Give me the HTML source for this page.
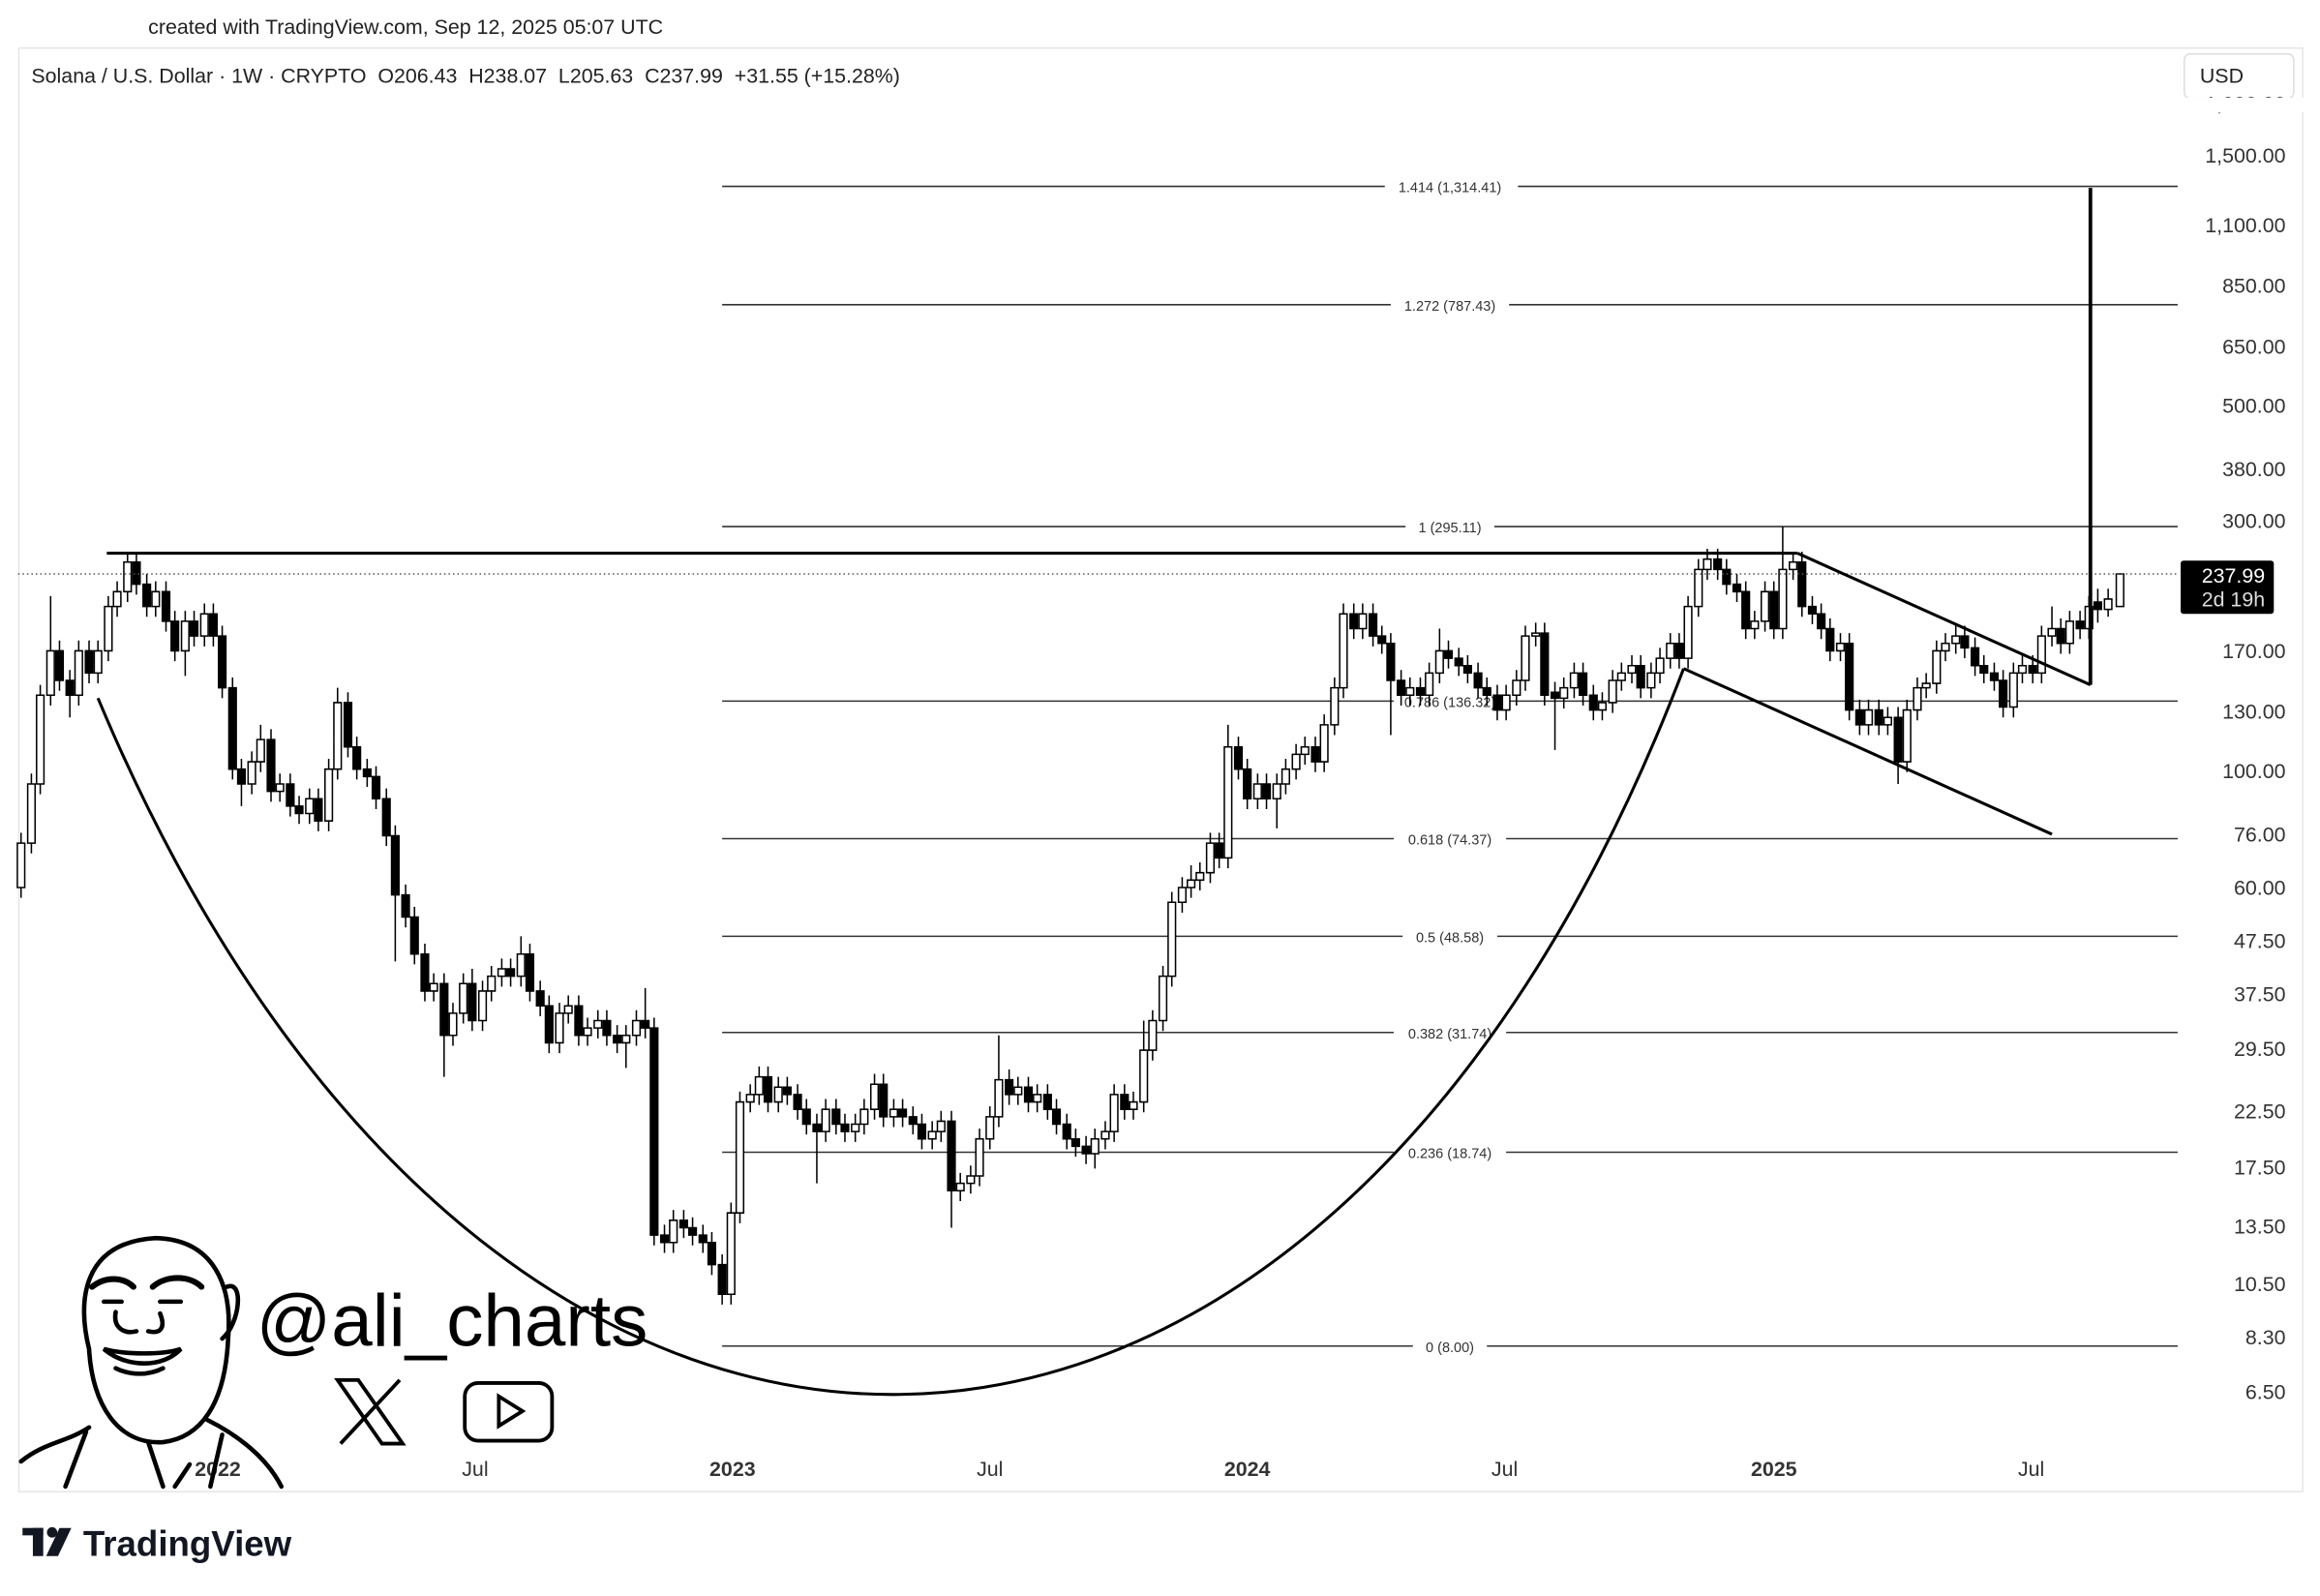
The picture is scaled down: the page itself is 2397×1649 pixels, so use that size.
<!DOCTYPE html>
<html><head><meta charset="utf-8"><style>
html,body{margin:0;padding:0;background:#fff;}
svg{display:block;font-family:"Liberation Sans",sans-serif;}
</style></head><body>
<svg width="2397" height="1649" viewBox="0 0 1568 1079" xmlns="http://www.w3.org/2000/svg">
<rect width="1568" height="1079" fill="#fff"/>
<text x="100" y="23" font-size="14" fill="#222">created with TradingView.com, Sep 12, 2025 05:07 UTC</text>
<rect x="12.5" y="32.5" width="1544" height="976" fill="none" stroke="#e6e6e6"/>
<text x="21" y="56" font-size="14" fill="#222" xml:space="preserve">Solana / U.S. Dollar · 1W · CRYPTO  O206.43  H238.07  L205.63  C237.99  +31.55 (+15.28%)</text>
<rect x="1476.5" y="36.5" width="74" height="30" rx="4" fill="#fff" stroke="#ddd"/>
<text x="1487" y="56" font-size="14" fill="#222">USD</text>

<g stroke="#333" stroke-width="1">
<line x1="488" y1="126" x2="1472" y2="126"/><line x1="488" y1="206" x2="1472" y2="206"/>
<line x1="488" y1="356" x2="1472" y2="356"/><line x1="488" y1="474" x2="1472" y2="474"/>
<line x1="488" y1="567" x2="1472" y2="567"/><line x1="488" y1="633" x2="1472" y2="633"/>
<line x1="488" y1="698" x2="1472" y2="698"/><line x1="488" y1="779" x2="1472" y2="779"/>
<line x1="488" y1="910" x2="1472" y2="910"/>
</g>
<g fill="#fff">
<rect x="936" y="120" width="90" height="12"/><rect x="940" y="200" width="80" height="12"/>
<rect x="950" y="350" width="60" height="12"/><rect x="942" y="468" width="76" height="12"/><rect x="942" y="561" width="76" height="12"/>
<rect x="948" y="627" width="64" height="12"/><rect x="942" y="692" width="76" height="12"/>
<rect x="942" y="773" width="76" height="12"/><rect x="955" y="904" width="50" height="12"/>
</g>
<g font-size="9.5" fill="#333" text-anchor="middle">
<text x="980" y="130">1.414 (1,314.41)</text><text x="980" y="210">1.272 (787.43)</text>
<text x="980" y="360">1 (295.11)</text><text x="980" y="478">0.786 (136.32)</text><text x="980" y="571">0.618 (74.37)</text>
<text x="980" y="637">0.5 (48.58)</text><text x="980" y="702">0.382 (31.74)</text>
<text x="980" y="783">0.236 (18.74)</text><text x="980" y="914">0 (8.00)</text>
</g>

<path fill="none" stroke="#000" stroke-width="1" d="M14,563V607M21,523V577M27,463V537M34,403V477M40,433V467M47,453V485M53,433V477M60,433V462M66,433V462M73,403V447M79,393V417M86,373V407M92,373V402M99,388V417M105,393V417M112,393V427M118,413V447M125,413V457M131,413V437M138,408V437M144,408V437M150,423V472M157,458V527M163,513V545M170,508V537M176,490V522M183,493V542M189,523V542M196,523V552M202,538V557M209,533V557M215,533V562M222,513V562M228,465V527M235,468V512M241,498V527M248,513V532M254,518V547M261,533V572M267,558V650M274,598V627M280,613V652M287,638V677M293,658V677M300,658V728M306,678V707M313,658V692M319,655V697M326,663V697M332,653V677M339,648V667M345,648V667M352,633V667M358,638V677M365,663V687M371,673V712M378,678V712M384,673V692M391,673V707M397,688V707M404,683V702M410,683V707M417,693V712M423,693V722M430,683V707M436,668V702M442,688V842M449,828V847M455,818V847M462,818V837M468,823V842M475,828V847M481,833V862M488,848V882M494,813V882M500,738V827M507,733V752M513,721V747M519,721V752M526,728V752M532,728V747M539,733V757M545,743V767M552,753V800M558,743V772M565,743V767M571,753V772M578,753V772M584,743V767M591,726V757M597,726V762M604,743V762M610,743V762M617,748V767M623,753V777M630,758V777M636,751V772M643,751V830M649,793V812M656,788V807M662,763V802M669,748V777M675,700V762M682,723V747M688,728V747M695,728V752M701,733V752M708,733V757M714,743V767M721,753V777M727,763V782M734,768V787M740,763V790M747,758V777M753,733V772M760,733V757M766,738V757M773,690V752M779,683V717M786,653V697M792,603V667M799,593V617M805,585V607M811,583V602M818,563V597M824,563V587M830,490V587M837,498V527M843,513V547M850,523V547M856,523V547M863,523V560M869,513V537M876,503V527M882,498V517M889,498V522M895,483V522M902,458V497M908,408V472M915,408V432M921,408V432M928,408V437M934,423V442M940,428V497M947,453V477M953,458V477M960,458V477M966,448V477M973,425V462M979,433V452M986,438V457M992,443V462M999,448V472M1005,458V477M1012,463V487M1018,463V487M1025,453V477M1031,423V467M1038,421V437M1044,421V477M1051,461V507M1057,458V479M1064,448V472M1070,448V477M1077,463V487M1083,468V487M1090,453V482M1096,448V467M1103,443V462M1109,443V472M1116,448V472M1122,438V462M1129,428V452M1135,428V452M1141,403V452M1148,378V417M1154,371V392M1161,371V392M1167,378V402M1174,388V407M1180,393V432M1186,413V432M1193,393V427M1199,393V432M1205,356V432M1212,373V392M1218,373V417M1225,403V422M1231,408V432M1237,418V447M1244,428V447M1250,428V487M1257,473V497M1263,473V497M1270,473V497M1276,478V497M1283,478V530M1289,473V522M1296,458V487M1302,455V472M1309,433V469M1315,428V447M1322,423V442M1328,423V445M1335,431V457M1341,443V462M1348,448V467M1354,453V485M1361,448V485M1367,443V462M1374,443V462M1380,423V462M1387,410V437M1393,418V442M1399,413V442M1406,413V432M1412,403V432M1418,398V421M1425,398V417M1433,388V410"/>
<path fill="#000" stroke="#000" stroke-width="1" d="M37.5,440h5V460h-5zM44.5,460h5V470h-5zM57.5,440h5V455h-5zM89.5,380h5V395h-5zM96.5,395h5V410h-5zM109.5,400h5V420h-5zM115.5,420h5V440h-5zM128.5,420h5V430h-5zM141.5,415h5V430h-5zM147.5,430h5V465h-5zM154.5,465h5V520h-5zM160.5,520h5V530h-5zM180.5,500h5V535h-5zM193.5,530h5V545h-5zM199.5,545h5V550h-5zM212.5,540h5V555h-5zM232.5,475h5V505h-5zM238.5,505h5V520h-5zM245.5,520h5V525h-5zM251.5,525h5V540h-5zM258.5,540h5V565h-5zM264.5,565h5V605h-5zM271.5,605h5V620h-5zM277.5,620h5V645h-5zM284.5,645h5V670h-5zM297.5,665h5V700h-5zM316.5,665h5V690h-5zM342.5,655h5V660h-5zM355.5,645h5V670h-5zM362.5,670h5V680h-5zM368.5,680h5V705h-5zM388.5,680h5V700h-5zM407.5,690h5V700h-5zM414.5,700h5V705h-5zM433.5,690h5V695h-5zM439.5,695h5V835h-5zM446.5,835h5V840h-5zM459.5,825h5V830h-5zM465.5,830h5V835h-5zM472.5,835h5V840h-5zM478.5,840h5V855h-5zM485.5,855h5V875h-5zM516.5,728h5V745h-5zM529.5,735h5V740h-5zM536.5,740h5V750h-5zM542.5,750h5V760h-5zM549.5,760h5V765h-5zM562.5,750h5V760h-5zM568.5,760h5V765h-5zM594.5,733h5V755h-5zM607.5,750h5V755h-5zM614.5,755h5V760h-5zM620.5,760h5V770h-5zM640.5,758h5V805h-5zM679.5,730h5V740h-5zM692.5,735h5V745h-5zM705.5,740h5V750h-5zM711.5,750h5V760h-5zM718.5,760h5V770h-5zM724.5,770h5V775h-5zM731.5,775h5V780h-5zM757.5,740h5V750h-5zM821.5,570h5V580h-5zM834.5,505h5V520h-5zM840.5,520h5V540h-5zM853.5,530h5V540h-5zM886.5,505h5V515h-5zM912.5,415h5V425h-5zM925.5,415h5V430h-5zM931.5,430h5V435h-5zM937.5,435h5V460h-5zM944.5,460h5V470h-5zM957.5,465h5V470h-5zM976.5,440h5V445h-5zM983.5,445h5V450h-5zM989.5,450h5V455h-5zM996.5,455h5V465h-5zM1002.5,465h5V470h-5zM1009.5,470h5V480h-5zM1041.5,428h5V470h-5zM1048.5,468h5V472h-5zM1067.5,455h5V470h-5zM1074.5,470h5V480h-5zM1106.5,450h5V465h-5zM1132.5,435h5V445h-5zM1158.5,378h5V385h-5zM1164.5,385h5V395h-5zM1171.5,395h5V400h-5zM1177.5,400h5V425h-5zM1196.5,400h5V425h-5zM1215.5,380h5V410h-5zM1222.5,410h5V415h-5zM1228.5,415h5V425h-5zM1234.5,425h5V440h-5zM1247.5,435h5V480h-5zM1254.5,480h5V490h-5zM1267.5,480h5V490h-5zM1280.5,485h5V515h-5zM1325.5,430h5V438h-5zM1332.5,438h5V450h-5zM1338.5,450h5V455h-5zM1345.5,455h5V460h-5zM1351.5,460h5V478h-5zM1371.5,450h5V455h-5zM1390.5,425h5V435h-5zM1403.5,420h5V425h-5zM1415.5,407h5V412h-5z"/>
<path fill="#fff" stroke="#000" stroke-width="1" d="M11.5,570h5V600h-5zM18.5,530h5V570h-5zM24.5,470h5V530h-5zM31.5,440h5V470h-5zM50.5,440h5V470h-5zM63.5,440h5V455h-5zM70.5,410h5V440h-5zM76.5,400h5V410h-5zM83.5,380h5V400h-5zM102.5,400h5V410h-5zM122.5,420h5V440h-5zM135.5,415h5V430h-5zM167.5,515h5V530h-5zM173.5,500h5V515h-5zM186.5,530h5V535h-5zM206.5,540h5V550h-5zM219.5,520h5V555h-5zM225.5,475h5V520h-5zM290.5,665h5V670h-5zM303.5,685h5V700h-5zM310.5,665h5V685h-5zM323.5,670h5V690h-5zM329.5,660h5V670h-5zM336.5,655h5V660h-5zM349.5,645h5V660h-5zM375.5,685h5V705h-5zM381.5,680h5V685h-5zM394.5,695h5V700h-5zM401.5,690h5V695h-5zM420.5,700h5V705h-5zM427.5,690h5V700h-5zM452.5,825h5V840h-5zM491.5,820h5V875h-5zM497.5,745h5V820h-5zM504.5,740h5V745h-5zM510.5,728h5V740h-5zM523.5,735h5V745h-5zM555.5,750h5V765h-5zM575.5,760h5V765h-5zM581.5,750h5V760h-5zM588.5,733h5V750h-5zM601.5,750h5V755h-5zM627.5,765h5V770h-5zM633.5,758h5V765h-5zM646.5,800h5V805h-5zM653.5,795h5V800h-5zM659.5,770h5V795h-5zM666.5,755h5V770h-5zM672.5,730h5V755h-5zM685.5,735h5V740h-5zM698.5,740h5V745h-5zM737.5,770h5V780h-5zM744.5,765h5V770h-5zM750.5,740h5V765h-5zM763.5,745h5V750h-5zM770.5,710h5V745h-5zM776.5,690h5V710h-5zM783.5,660h5V690h-5zM789.5,610h5V660h-5zM796.5,600h5V610h-5zM802.5,595h5V600h-5zM808.5,590h5V595h-5zM815.5,570h5V590h-5zM827.5,505h5V580h-5zM847.5,530h5V540h-5zM860.5,530h5V540h-5zM866.5,520h5V530h-5zM873.5,510h5V520h-5zM879.5,505h5V510h-5zM892.5,490h5V515h-5zM899.5,465h5V490h-5zM905.5,415h5V465h-5zM918.5,415h5V425h-5zM950.5,465h5V470h-5zM963.5,455h5V470h-5zM970.5,440h5V455h-5zM1015.5,470h5V480h-5zM1022.5,460h5V470h-5zM1028.5,430h5V460h-5zM1035.5,428h5V430h-5zM1054.5,465h5V472h-5zM1061.5,455h5V465h-5zM1080.5,475h5V480h-5zM1087.5,460h5V475h-5zM1093.5,455h5V460h-5zM1100.5,450h5V455h-5zM1113.5,455h5V465h-5zM1119.5,445h5V455h-5zM1126.5,435h5V445h-5zM1138.5,410h5V445h-5zM1145.5,385h5V410h-5zM1151.5,378h5V385h-5zM1183.5,420h5V425h-5zM1190.5,400h5V420h-5zM1202.5,385h5V425h-5zM1209.5,380h5V385h-5zM1241.5,435h5V440h-5zM1260.5,480h5V490h-5zM1273.5,485h5V490h-5zM1286.5,480h5V515h-5zM1293.5,465h5V480h-5zM1299.5,462h5V465h-5zM1306.5,440h5V462h-5zM1312.5,435h5V440h-5zM1319.5,430h5V435h-5zM1358.5,455h5V478h-5zM1364.5,450h5V455h-5zM1377.5,430h5V455h-5zM1384.5,425h5V430h-5zM1396.5,420h5V435h-5zM1409.5,410h5V425h-5zM1422.5,405h5V412h-5zM1430.5,388h5V410h-5z"/>

<line x1="12" y1="388" x2="1472" y2="388" stroke="#555" stroke-width="1" stroke-dasharray="1,2"/>
<g fill="none" stroke="#000" stroke-width="2">
<line x1="72" y1="374" x2="1215" y2="374"/>
<path d="M66,472 C330,1103 890,1103 1138,452"/>
<line x1="1215" y1="374" x2="1413" y2="463"/>
<line x1="1138" y1="452" x2="1387" y2="564"/>
<line x1="1413" y1="463" x2="1413" y2="127" stroke-width="2.5"/>
</g>

<g font-size="14" fill="#333" text-anchor="end">
<text x="1545" y="75">1,900.00</text><text x="1545" y="110">1,500.00</text><text x="1545" y="157">1,100.00</text>
<text x="1545" y="198">850.00</text><text x="1545" y="239">650.00</text><text x="1545" y="279">500.00</text>
<text x="1545" y="322">380.00</text><text x="1545" y="357">300.00</text><text x="1545" y="445">170.00</text>
<text x="1545" y="486">130.00</text><text x="1545" y="526">100.00</text><text x="1545" y="569">76.00</text>
<text x="1545" y="605">60.00</text><text x="1545" y="641">47.50</text><text x="1545" y="677">37.50</text>
<text x="1545" y="714">29.50</text><text x="1545" y="756">22.50</text><text x="1545" y="794">17.50</text>
<text x="1545" y="834">13.50</text><text x="1545" y="873">10.50</text><text x="1545" y="909">8.30</text>
<text x="1545" y="946">6.50</text>
</g>
<rect x="1474" y="66" width="84" height="10" fill="#fff"/>
<rect x="1474" y="379" width="63" height="36" rx="2" fill="#000"/>
<text x="1531" y="394" font-size="14" fill="#fff" text-anchor="end">237.99</text>
<text x="1531" y="410" font-size="14" fill="#ddd" text-anchor="end">2d 19h</text>

<g font-size="14" fill="#333" text-anchor="middle">
<text x="147" y="998" font-weight="bold">2022</text><text x="321" y="998">Jul</text>
<text x="495" y="998" font-weight="bold">2023</text><text x="669" y="998">Jul</text>
<text x="843" y="998" font-weight="bold">2024</text><text x="1017" y="998">Jul</text>
<text x="1199" y="998" font-weight="bold">2025</text><text x="1373" y="998">Jul</text>
</g>

<g fill="none" stroke="#000" stroke-width="3" stroke-linecap="round">
<path d="M60,912 C52,880 55,840 105,837 C145,838 157,870 154,905 C152,950 135,972 110,975 C80,977 62,950 60,912 Z"/>
<path d="M62,870 C72,862 84,864 90,870 M103,870 C112,862 128,862 136,870" stroke-width="4"/>
<path d="M70,880 L82,880 M108,880 L122,880"/>
<path d="M78,887 C76,898 84,902 92,900 M100,900 C108,902 112,898 108,888"/>
<path d="M70,912 C85,925 110,925 122,912 C110,916 85,916 70,912 Z"/>
<path d="M78,925 C88,930 100,930 110,925"/>
<path d="M153,870 C165,865 162,895 150,905"/>
<path d="M14,988 C30,975 45,975 60,965 M140,960 C160,970 180,985 190,1005 M58,968 L44,1005 M150,970 L142,1005 M128,990 L118,1005 M100,975 L110,1005"/>
</g>
<text x="173" y="910" font-size="50" fill="#000">@ali_charts</text>
<g stroke="#000" stroke-width="2.5" fill="none">
<path d="M228,933 L242,933 L272,976 L258,976 Z"/>
<line x1="270" y1="933" x2="230" y2="976"/>
<rect x="314" y="935" width="59" height="39" rx="9"/>
<path d="M337,944 L353,954 L337,964 Z"/>
</g>
<g fill="#131722">
<rect x="15" y="1033" width="14" height="5"/><rect x="22" y="1033" width="7" height="19"/>
<circle cx="35" cy="1036" r="3.5"/><path d="M40,1033 L48,1033 L39,1052 L31,1052 Z"/>
</g>
<text x="56" y="1052" font-size="24" font-weight="bold" fill="#131722">TradingView</text>
</svg>
</body></html>
